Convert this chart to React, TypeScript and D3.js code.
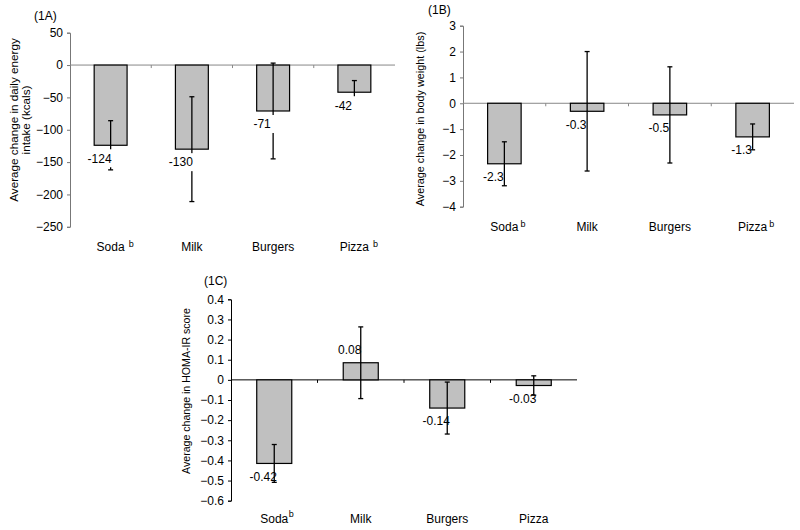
import React, { useEffect, useRef } from "react";
import * as d3 from "d3";

// ---------- data ----------
const categories = ["Soda", "Milk", "Burgers", "Pizza"];

// Panel 1A: daily energy intake (kcals)
const supA = ["b", "", "", "b"];
const valuesA = [-124, -130, -71, -42];
const errorsA = [38, 81, 74, 18];
const labelsA = ["-124", "-130", "-71", "-42"];
const ticksA = [50, 0, -50, -100, -150, -200, -250];

// Panel 1B: body weight (lbs)
const supB = ["b", "", "", "b"];
const valuesB = [-2.34, -0.31, -0.45, -1.3];
const errorsB = [0.85, 2.31, 1.86, 0.5];
const labelsB = ["-2.3", "-0.3", "-0.5", "-1.3"];
const ticksB = [3, 2, 1, 0, -1, -2, -3, -4];

// Panel 1C: HOMA-IR score
const supC = ["b", "", "", ""];
const valuesC = [-0.415, 0.085, -0.14, -0.028];
const errorsC = [0.094, 0.178, 0.129, 0.048];
const labelsC = ["-0.42", "0.08", "-0.14", "-0.03"];
const ticksC = [0.4, 0.3, 0.2, 0.1, 0, -0.1, -0.2, -0.3, -0.4, -0.5, -0.6];

const FONT = "'Liberation Sans', Arial, Helvetica, sans-serif";

type PanelCfg = {
  left: number;
  right: number;
  top: number;
  bottom: number;
  domain: [number, number];
  ticks: number[];
  tickFmt: (v: number) => string;
  values: number[];
  errors: number[];
  labels: string[];
  sups: string[];
  supGap: number;
  supRaise: number;
  labelBg: boolean;
  tag: string;
  tagX: number;
  tagY: number;
  titleLines: string[];
  titleX: number[];
  titleY: number;
  titleSize: number;
  catY: number;
  lineColor: string;
  axisColor: string;
};

function drawPanel(svg: d3.Selection<SVGSVGElement, unknown, null, undefined>, c: PanelCfg) {
  const g = svg.append("g").attr("font-family", FONT);
  const y = d3.scaleLinear().domain(c.domain).range([c.bottom, c.top]);
  const x = d3.scaleBand().domain(categories).range([c.left, c.right]).padding(0);
  const bw = x.bandwidth() * 0.405;
  const cx = (cat: string) => (x(cat) as number) + x.bandwidth() / 2;

  // y axis
  const yAxis = d3
    .axisLeft(y)
    .tickValues(c.ticks)
    .tickSize(3)
    .tickPadding(4)
    .tickFormat((v) => c.tickFmt(v as number));
  const ga = g.append("g").attr("transform", `translate(${c.left},0)`).call(yAxis);
  ga.select(".domain").attr("stroke", c.axisColor).attr("stroke-width", 1);
  ga.selectAll(".tick line").attr("stroke", c.axisColor);
  ga.selectAll(".tick text").attr("font-size", 12).attr("font-family", FONT).attr("fill", "#000");

  // zero line
  const y0 = y(0);
  g.append("line")
    .attr("x1", c.left)
    .attr("x2", c.right)
    .attr("y1", y0)
    .attr("y2", y0)
    .attr("stroke", c.lineColor)
    .attr("stroke-width", 1);
  // category tick marks
  g.selectAll("line.ctick")
    .data(categories.slice(1))
    .enter()
    .append("line")
    .attr("x1", (d) => x(d) as number)
    .attr("x2", (d) => x(d) as number)
    .attr("y1", y0)
    .attr("y2", y0 + 3)
    .attr("stroke", c.lineColor);

  // bars
  g.selectAll("rect.bar")
    .data(categories)
    .enter()
    .append("rect")
    .attr("x", (d) => cx(d) - bw / 2)
    .attr("width", bw)
    .attr("y", (_, i) => Math.min(y(c.values[i]), y0))
    .attr("height", (_, i) => Math.abs(y(c.values[i]) - y0))
    .attr("fill", "#c0c0c0")
    .attr("stroke", "#000")
    .attr("stroke-width", 1.2);

  // error bars
  const eg = g.append("g").attr("stroke", "#000").attr("stroke-width", 1.3);
  categories.forEach((cat, i) => {
    const xc = cx(cat);
    const hi = y(c.values[i] + c.errors[i]);
    const lo = y(c.values[i] - c.errors[i]);
    eg.append("line").attr("x1", xc).attr("x2", xc).attr("y1", hi).attr("y2", lo);
    eg.append("line").attr("x1", xc - 2.5).attr("x2", xc + 2.5).attr("y1", hi).attr("y2", hi);
    eg.append("line").attr("x1", xc - 2.5).attr("x2", xc + 2.5).attr("y1", lo).attr("y2", lo);
  });

  // value labels
  categories.forEach((cat, i) => {
    const v = c.values[i];
    const lx = cx(cat) - 11;
    const ly = v < 0 ? y(v) + 13 : y(v) - 13;
    const lg = g.append("g");
    const t = lg
      .append("text")
      .attr("x", lx)
      .attr("y", ly + 4.3)
      .attr("text-anchor", "middle")
      .attr("font-size", 12)
      .attr("fill", "#000")
      .text(c.labels[i]);
    if (c.labelBg) {
      const w = (t.node() as SVGTextElement).getComputedTextLength();
      lg.insert("rect", "text")
        .attr("x", lx - w / 2 - 5)
        .attr("y", ly - 9)
        .attr("width", w + 10)
        .attr("height", 18)
        .attr("fill", "#fff");
    }
  });

  // category labels
  categories.forEach((cat, i) => {
    const t = g
      .append("text")
      .attr("x", cx(cat))
      .attr("y", c.catY)
      .attr("text-anchor", "middle")
      .attr("font-size", 12)
      .attr("fill", "#000")
      .text(cat);
    if (c.sups[i]) {
      const w = (t.node() as SVGTextElement).getComputedTextLength();
      g.append("text")
        .attr("x", cx(cat) + w / 2 + c.supGap)
        .attr("y", c.catY - c.supRaise)
        .attr("font-size", 9)
        .attr("fill", "#000")
        .text(c.sups[i]);
    }
  });

  // tag
  g.append("text")
    .attr("x", c.tagX)
    .attr("y", c.tagY)
    .attr("font-size", 12)
    .attr("fill", "#000")
    .text(c.tag);

  // y title
  c.titleLines.forEach((line, k) => {
    g.append("text")
      .attr("transform", `translate(${c.titleX[k]},${c.titleY}) rotate(-90)`)
      .attr("text-anchor", "middle")
      .attr("font-size", c.titleSize)
      .attr("fill", "#000")
      .text(line);
  });
}

export default function App() {
  const ref = useRef<SVGSVGElement>(null);
  useEffect(() => {
    if (!ref.current) return;
    const svg = d3.select(ref.current);
    svg.selectAll("*").remove();
    svg.append("rect").attr("width", 800).attr("height", 530).attr("fill", "#fff");

    drawPanel(svg, {
      left: 70,
      right: 395,
      top: 32.7,
      bottom: 226.8,
      domain: [-250, 50],
      ticks: ticksA,
      tickFmt: (v) => d3.format("d")(v),
      values: valuesA,
      errors: errorsA,
      labels: labelsA,
      sups: supA,
      supGap: 4,
      supRaise: 4,
      labelBg: true,
      tag: "(1A)",
      tagX: 34,
      tagY: 20,
      titleLines: ["Average change in daily energy", "intake (kcals)"],
      titleX: [18, 30],
      titleY: 120,
      titleSize: 11.7,
      catY: 250.5,
      lineColor: "#888",
      axisColor: "#777",
    });

    drawPanel(svg, {
      left: 463,
      right: 794,
      top: 25.7,
      bottom: 206.7,
      domain: [-4, 3],
      ticks: ticksB,
      tickFmt: (v) => d3.format("d")(v),
      values: valuesB,
      errors: errorsB,
      labels: labelsB,
      sups: supB,
      supGap: 2,
      supRaise: 4,
      labelBg: false,
      tag: "(1B)",
      tagX: 428,
      tagY: 14,
      titleLines: ["Average change in body weight (lbs)"],
      titleX: [424],
      titleY: 119,
      titleSize: 10.8,
      catY: 230.5,
      lineColor: "#888",
      axisColor: "#777",
    });

    drawPanel(svg, {
      left: 231,
      right: 577,
      top: 299.3,
      bottom: 500.7,
      domain: [-0.6, 0.4],
      ticks: ticksC,
      tickFmt: (v) => (v === 0 ? "0" : d3.format(".1f")(v)),
      values: valuesC,
      errors: errorsC,
      labels: labelsC,
      sups: supC,
      supGap: 0.5,
      supRaise: 6,
      labelBg: false,
      tag: "(1C)",
      tagX: 204,
      tagY: 285,
      titleLines: ["Average change in HOMA-IR score"],
      titleX: [190],
      titleY: 391,
      titleSize: 10.6,
      catY: 522.5,
      lineColor: "#000",
      axisColor: "#000",
    });
  }, []);
  return (
    <svg
      ref={ref}
      width={800}
      height={530}
      style={{ position: "absolute", left: 0, top: 0, display: "block" }}
    />
  );
}
